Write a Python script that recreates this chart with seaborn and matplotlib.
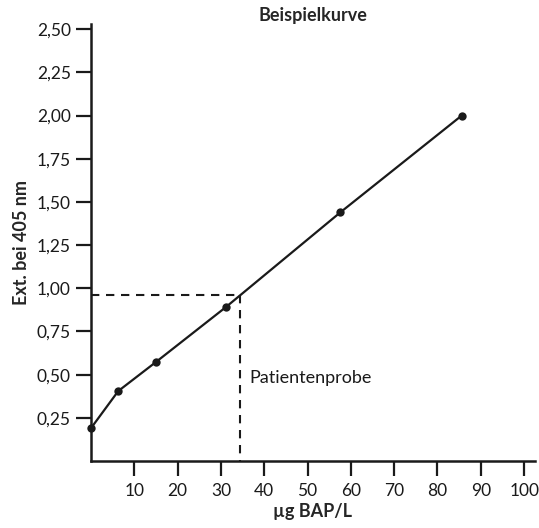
import numpy as np
import pandas as pd
import matplotlib
matplotlib.use("Agg")
import matplotlib.pyplot as plt
import seaborn as sns

# -----------------------------
# DATA
# -----------------------------
conc = [0.0, 6.3, 15.1, 31.1, 57.6, 85.6]          # µg BAP/L
ext = [0.19, 0.405, 0.575, 0.89, 1.44, 2.00]        # Ext. bei 405 nm

patient_x = 34.3
patient_y = 0.96

x_ticks = [10, 20, 30, 40, 50, 60, 70, 80, 90, 100]
y_ticks = [0.25, 0.50, 0.75, 1.00, 1.25, 1.50, 1.75, 2.00, 2.25, 2.50]
y_tick_labels = ["0,25", "0,50", "0,75", "1,00", "1,25",
                 "1,50", "1,75", "2,00", "2,25", "2,50"]

df = pd.DataFrame({"conc": conc, "ext": ext})

# -----------------------------
# STYLE
# -----------------------------
sns.set_style("ticks")
plt.rcParams["font.family"] = ["Lato", "DejaVu Sans"]
plt.rcParams["axes.linewidth"] = 1.8

fig = plt.figure(figsize=(5.39, 5.28), dpi=100)
ax = fig.add_axes([0.1688, 0.1269, 0.8237, 0.8277])

# -----------------------------
# CURVE
# -----------------------------
sns.lineplot(data=df, x="conc", y="ext", ax=ax, color="#1a1a1a",
             linewidth=1.6, marker="o", markersize=6,
             markeredgewidth=0, clip_on=False)

# patient sample read-off lines
dash = (0, (4, 3.2))
ax.plot([0, patient_x], [patient_y, patient_y], color="#1a1a1a",
        linewidth=1.5, linestyle=dash)
ax.plot([patient_x, patient_x], [patient_y, 0], color="#1a1a1a",
        linewidth=1.5, linestyle=dash)
ax.text(patient_x + 2.2, 0.48, "Patientenprobe", fontsize=13,
        va="center", ha="left", color="#1a1a1a")

# -----------------------------
# AXES
# -----------------------------
ax.set_xlim(0, 102.5)
ax.set_ylim(0, 2.53)
ax.set_xticks(x_ticks)
ax.set_xticklabels([str(t) for t in x_ticks])
ax.set_yticks(y_ticks)
ax.set_yticklabels(y_tick_labels)
ax.tick_params(axis="both", direction="out", length=11, width=1.6,
               labelsize=12.5, colors="#1a1a1a")
ax.tick_params(axis="x", pad=5)
ax.tick_params(axis="y", pad=3.5)

sns.despine(ax=ax)
for s in ["left", "bottom"]:
    ax.spines[s].set_color("#1a1a1a")

ax.set_xlabel("µg BAP/L", fontsize=13, fontweight="bold", labelpad=3)
ax.set_ylabel("Ext. bei 405 nm", fontsize=13, fontweight="bold", labelpad=5)
ax.set_title("Beispielkurve", fontsize=13, fontweight="bold", pad=1.5)

fig.savefig("out.png", dpi=100)
